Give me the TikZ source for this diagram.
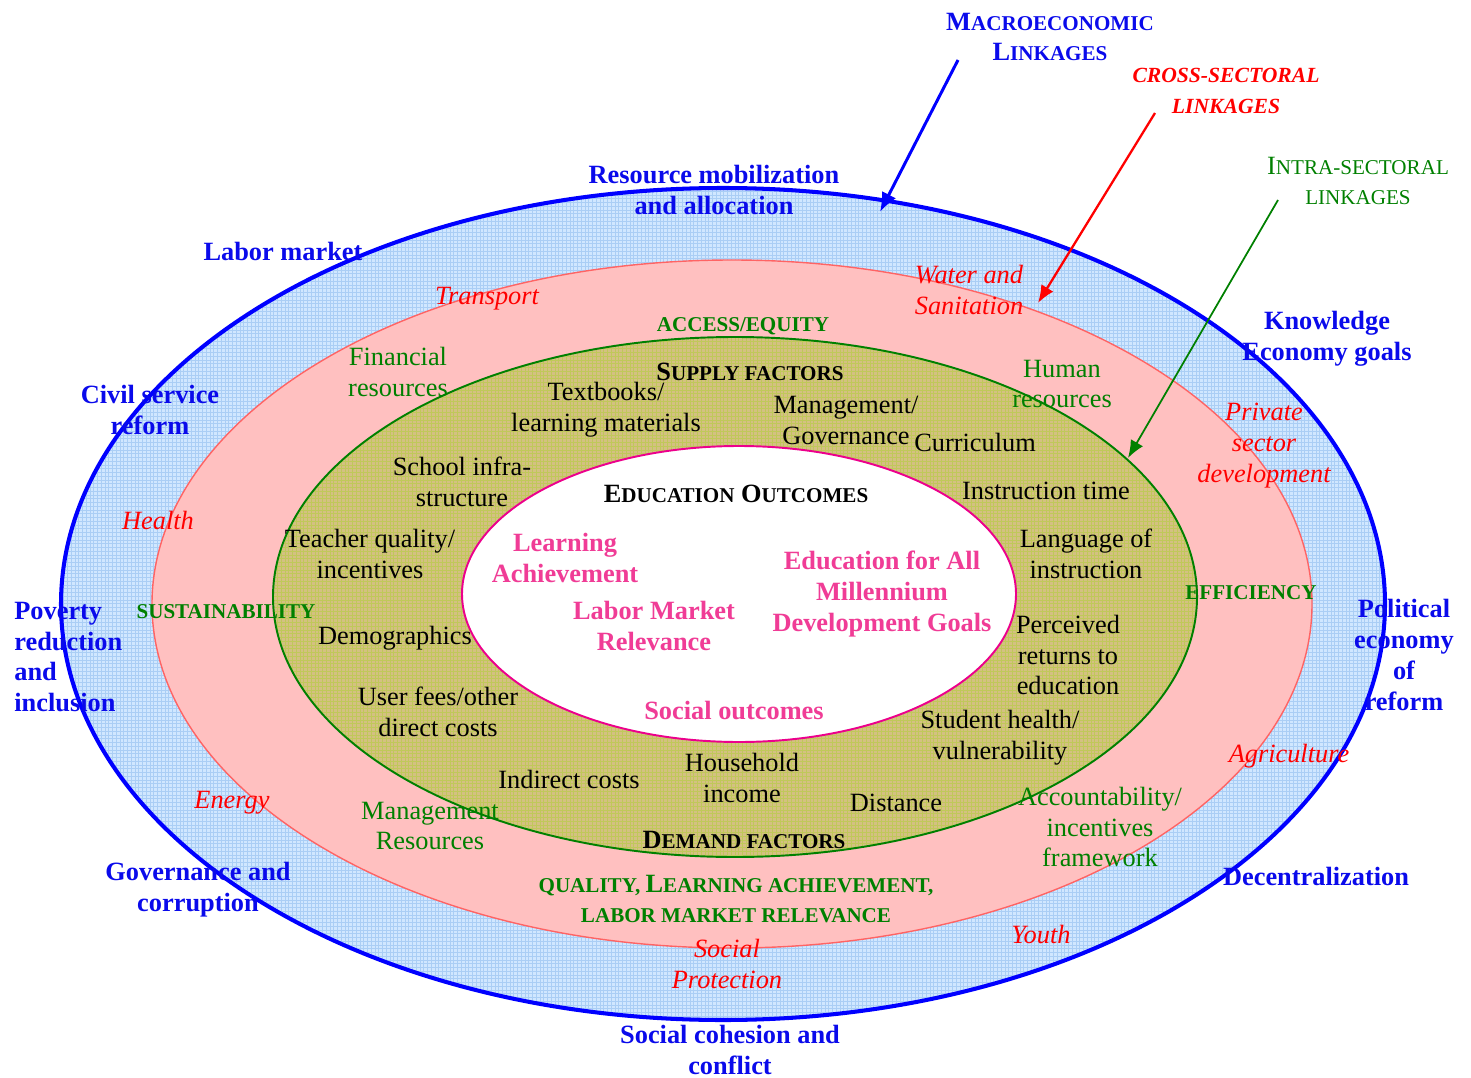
\documentclass[tikz,border=0pt]{standalone}
\usepackage{fontspec}
\setmainfont{Liberation Serif}
\usepackage{tikz}
\usetikzlibrary{arrows.meta}
\definecolor{linkblue}{RGB}{10,10,235}
\definecolor{ringblue}{RGB}{0,0,255}
\definecolor{bluefill}{RGB}{208,231,255}
\definecolor{bluegridc}{RGB}{170,206,245}
\definecolor{pinkfill}{RGB}{255,192,192}
\definecolor{pinkline}{RGB}{255,100,100}
\definecolor{olivefill}{RGB}{212,192,130}
\definecolor{olivegridc}{RGB}{192,200,90}
\definecolor{darkgreen}{RGB}{0,128,0}
\definecolor{outpink}{RGB}{240,60,150}
\newcommand{\fsc}[2]{#1{\fontsize{12}{17.6}\selectfont #2}}
\tikzstyle{base}=[inner sep=0pt, align=center, font=\fontsize{15}{17.6}\selectfont]
\tikzstyle{macro}=[base, text=linkblue, font=\fontsize{15}{17.6}\selectfont\bfseries]
\tikzstyle{cross}=[base, text=red, font=\fontsize{15}{17.6}\selectfont\itshape]
\tikzstyle{intra}=[base, text=darkgreen]
\tikzstyle{intracap}=[base, text=darkgreen, font=\fontsize{12}{17.6}\selectfont\bfseries]
\tikzstyle{factor}=[base, text=black]
\tikzstyle{outcome}=[base, text=outpink, font=\fontsize{15}{17.6}\selectfont\bfseries]
\tikzstyle{heading}=[base, text=black, font=\fontsize{15}{17.6}\selectfont\bfseries]
\tikzstyle{bluegrid}=[draw=bluegridc, line width=0.3pt, step=0.075cm]
\tikzstyle{olivegrid}=[draw=olivegridc, line width=0.3pt, step=0.075cm]
\tikzstyle{macroarrow}=[draw=ringblue, line width=1.7pt, -{Latex[length=11pt,width=9pt]}]
\tikzstyle{crossarrow}=[draw=red, line width=1.3pt, -{Latex[length=10pt,width=8pt]}]
\tikzstyle{intraarrow}=[draw=darkgreen, line width=1pt, -{Latex[length=10pt,width=8pt]}]
\begin{document}
\begin{tikzpicture}[x=0.02cm,y=-0.02cm]
				\useasboundingbox (0,0) rectangle (1471,1078);
				
				%The outer ring
				\fill[bluefill] (723,604) ellipse [x radius=662, y radius=416];
				\begin{scope}
				\clip (723,604) ellipse [x radius=662, y radius=416];
				\draw[bluegrid] (0cm,-21.56cm) grid (29.42cm,0cm);
				\end{scope}
				
				%The cross-sectoral ring
				\draw[pinkline, line width=0.8pt, fill=pinkfill] (732,604) ellipse [x radius=580, y radius=344];
				
				%The intra-sectoral ring
				\fill[olivefill] (735,597) ellipse [x radius=462, y radius=260];
				\begin{scope}
				\clip (735,597) ellipse [x radius=462, y radius=260];
				\draw[olivegrid] (0cm,-21.56cm) grid (29.42cm,0cm);
				\end{scope}
				\draw[darkgreen, line width=1.1pt] (735,597) ellipse [x radius=462, y radius=260];
				
				%The outcomes
				\draw[magenta, line width=1.1pt, fill=white] (739,594) ellipse [x radius=277, y radius=148];
				\draw[ringblue, line width=2.3pt] (723,604) ellipse [x radius=662, y radius=416];
				
				%The linkage labels
				\draw (1050,37) node[macro] (macro) {\fsc{M}{ACROECONOMIC}\\\fsc{L}{INKAGES}};
				\draw (1226,91) node[cross, font=\fontsize{12.3}{17.6}\selectfont\bfseries\itshape] (crosslab) {CROSS-SECTORAL\\LINKAGES};
				\draw (1358,181) node[intra] (intralab) {\fsc{I}{NTRA-SECTORAL}\\{\fontsize{12}{17.6}\selectfont LINKAGES}};
				
				\coordinate (macrotail) at (958,60);
				\coordinate (macrohead) at (880,212);
				\coordinate (crosstail) at (1155,113);
				\coordinate (crosshead) at (1038,303);
				\coordinate (intratail) at (1278,200);
				\coordinate (intrahead) at (1128,458);
				\draw[macroarrow] (macrotail) -- (macrohead);
				\draw[crossarrow] (crosstail) -- (crosshead);
				\draw[intraarrow] (intratail) -- (intrahead);
				
				%Macroeconomic linkages
				\draw (714,190) node[macro] (resource) {Resource mobilization\\and allocation};
				\draw (283,251) node[macro] (labor) {Labor market};
				\draw (150,410) node[macro] (civil) {Civil service\\reform};
				\draw (14,657) node[macro, anchor=west, align=left] (poverty) {Poverty\\reduction\\and\\inclusion};
				\draw (198,890) node[macro] (governance) {Governance and\\corruption};
				\draw (730,1050) node[macro] (cohesion) {Social cohesion and\\conflict};
				\draw (1316,876) node[macro] (decentral) {Decentralization};
				\draw (1404,655) node[macro] (political) {Political\\economy\\of\\reform};
				\draw (1327,339) node[macro] (knowledge) {Knowledge\\Economy goals};
				
				%Cross-sectoral linkages
				\draw (487,299) node[cross] (transport) {Transport};
				\draw (969,290) node[cross] (water) {Water and\\Sanitation};
				\draw (1264,446) node[cross] (private) {Private\\sector\\development};
				\draw (158,520) node[cross] (health) {Health};
				\draw (232,803) node[cross] (energy) {Energy};
				\draw (1289,756) node[cross] (agri) {Agriculture};
				\draw (1041,935) node[cross] (youth) {Youth};
				\draw (727,964) node[cross] (socprot) {Social\\Protection};
				
				%Intra-sectoral linkages
				\draw (398,372) node[intra] (financial) {Financial\\resources};
				\draw (1062,384) node[intra] (human) {Human\\resources};
				\draw (430,826) node[intra] (mgmtres) {Management\\Resources};
				\draw (1100,827) node[intra] (account) {Accountability/\\incentives\\framework};
				\draw (743,326) node[intracap] (access) {ACCESS/EQUITY};
				\draw (226,612) node[intracap] (sustain) {SUSTAINABILITY};
				\draw (1251,593) node[intracap] (effic) {EFFICIENCY};
				\draw (736,899) node[intracap, font=\fontsize{15}{17.6}\selectfont\bfseries] (quality) {{\fontsize{12}{17.6}\selectfont QUALITY, }\fsc{L}{EARNING ACHIEVEMENT,}\\{\fontsize{12}{17.6}\selectfont LABOR MARKET RELEVANCE}};
				
				%Supply and demand factors
				\draw (750,372) node[heading] (supply) {\fsc{S}{UPPLY FACTORS}};
				\draw (606,410) node[factor] (textbooks) {Textbooks/\\learning materials};
				\draw (846,420) node[factor] (mgmtgov) {Management/\\Governance};
				\draw (975,442) node[factor] (curriculum) {Curriculum};
				\draw (462,482) node[factor] (school) {School infra-\\structure};
				\draw (1046,491) node[factor] (instrtime) {Instruction time};
				\draw (370,554) node[factor] (teacher) {Teacher quality/\\incentives};
				\draw (1086,554) node[factor] (language) {Language of\\instruction};
				\draw (395,638) node[factor] (demog) {Demographics};
				\draw (1068,655) node[factor] (perceived) {Perceived\\returns to\\education};
				\draw (438,712) node[factor] (userfees) {User fees/other\\direct costs};
				\draw (1000,738) node[factor] (student) {Student health/\\vulnerability};
				\draw (569,779) node[factor] (indirect) {Indirect costs};
				\draw (742,778) node[factor] (household) {Household\\income};
				\draw (896,803) node[factor] (distance) {Distance};
				\draw (744,840) node[heading] (demand) {\fsc{D}{EMAND FACTORS}};
				
				%Education outcomes
				\draw (736,494) node[heading] (outcomes) {\fsc{E}{DUCATION} \fsc{O}{UTCOMES}};
				\draw (565,558) node[outcome] (learning) {Learning\\Achievement};
				\draw (654,626) node[outcome] (lmr) {Labor Market\\Relevance};
				\draw (882,594) node[outcome] (efa) {Education for All\\Millennium\\Development Goals};
				\draw (734,711) node[outcome] (socialout) {Social outcomes};
			\end{tikzpicture}
\end{document}
